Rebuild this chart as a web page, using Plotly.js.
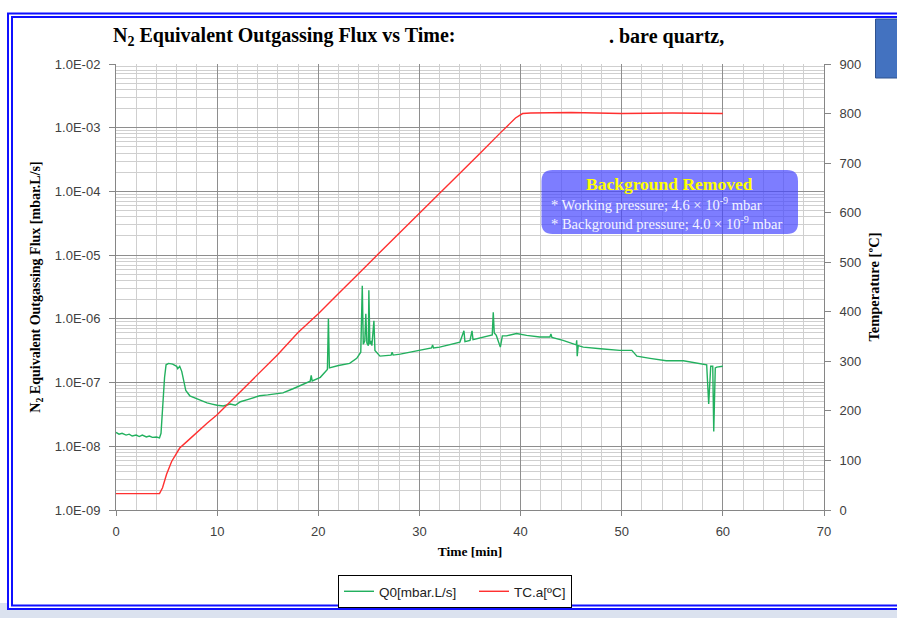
<!DOCTYPE html>
<html>
<head>
<meta charset="utf-8">
<script src="https://cdn.plot.ly/plotly-3.0.1.min.js"></script>
<style>
html,body{margin:0;padding:0;background:#ffffff;overflow:hidden;}
#chart{width:897px;height:618px;}
</style>
</head>
<body>
<div id="chart"></div>
<script>
// ---------- DATA ----------
const seriesNames = ['Q0[mbar.L/s]', 'TC.a[ºC]'];

// Green series: N2 equivalent outgassing flux [mbar.L/s] vs time [min]
const timeQ = [0.0,0.3,0.6,1.0,1.3,1.6,2.0,2.3,2.6,3.0,3.3,3.6,4.0,4.3,4.45,4.6,4.8,4.95,5.2,5.6,6.0,6.1,6.3,6.5,6.9,7.3,8.0,8.5,9.0,9.5,10.0,10.6,11.3,11.8,12.3,13.0,14.2,15.0,16.5,17.5,18.2,19.2,19.3,19.4,20.2,20.9,21.0,21.1,22.0,23.1,23.8,24.2,24.35,24.45,24.6,24.7,24.8,24.95,25.0,25.1,25.2,25.3,25.5,25.6,26.1,27.2,27.3,27.4,28.1,30.1,31.2,31.3,31.4,32.0,34.0,34.4,34.5,35.0,35.2,35.3,36.6,37.2,37.3,37.4,37.6,38.0,38.2,38.6,39.6,40.6,41.9,42.9,43.0,43.1,44.2,45.5,45.55,45.6,45.7,46.2,47.9,49.8,51.0,51.5,52.8,54.4,56.1,57.7,58.4,58.6,58.8,59.0,59.1,59.25,59.4,60.0];
const fluxQ = [1.65e-8,1.55e-8,1.6e-8,1.5e-8,1.55e-8,1.45e-8,1.5e-8,1.42e-8,1.5e-8,1.4e-8,1.45e-8,1.38e-8,1.4e-8,1.35e-8,1.6e-8,4.0e-8,1.2e-7,1.9e-7,2.0e-7,1.95e-7,1.8e-7,1.65e-7,1.8e-7,1.5e-7,7.5e-8,6.2e-8,5.6e-8,5.2e-8,4.8e-8,4.6e-8,4.4e-8,4.3e-8,4.6e-8,4.4e-8,5.0e-8,5.4e-8,6.2e-8,6.4e-8,6.9e-8,8.0e-8,9.0e-8,1.05e-7,1.3e-7,1.06e-7,1.21e-7,1.6e-7,1.0e-6,1.7e-7,1.85e-7,2.0e-7,2.4e-7,3.0e-7,3.3e-6,4.0e-7,4.5e-7,1.2e-6,4.2e-7,3.8e-7,2.8e-6,4.0e-7,4.5e-7,3.8e-7,9.3e-7,3.2e-7,2.6e-7,2.7e-7,3.0e-7,2.7e-7,2.8e-7,3.2e-7,3.5e-7,3.9e-7,3.5e-7,3.6e-7,4.3e-7,6.5e-7,4.4e-7,4.6e-7,6.5e-7,4.7e-7,5.4e-7,5.6e-7,1.27e-6,6.0e-7,5.5e-7,3.6e-7,5.4e-7,5.4e-7,5.9e-7,5.5e-7,5.2e-7,5.2e-7,5.8e-7,5.1e-7,4.6e-7,3.9e-7,4.6e-7,2.6e-7,3.8e-7,3.6e-7,3.4e-7,3.2e-7,3.2e-7,2.6e-7,2.4e-7,2.2e-7,2.2e-7,2.0e-7,1.9e-7,4.6e-8,1.8e-7,1.8e-7,1.7e-8,1.7e-7,1.75e-7,1.8e-7];

// Red series: temperature TC.a [ºC] vs time [min]
const timeT = [0,4.3,4.6,5.0,5.5,6.3,7.0,8.0,9.0,10.0,12.0,14.0,16.0,18.0,20.0,22.0,23.0,24.0,26.0,28.0,30.0,32.0,34.0,36.0,38.0,39.5,40.2,41,45,50,55,60];
const tempT = [33,33,45,72,98,125,138,157,175,192,232,273,314,358,396,437,458,477,518,558,598,639,680,720,761,791,800,801,802,800,801,800];

// Tick labels
const xTickVals = [0,10,20,30,40,50,60,70];
const fluxTickVals = [1e-9,1e-8,1e-7,1e-6,1e-5,1e-4,1e-3,1e-2];
const fluxTickText = ['1.0E-09','1.0E-08','1.0E-07','1.0E-06','1.0E-05','1.0E-04','1.0E-03','1.0E-02'];
const tempTickVals = [0,100,200,300,400,500,600,700,800,900];

// ---------- LAYOUT HELPERS ----------
const W = 897, H = 618;
const M = {l:116, r:73, t:64, b:108};
const PW = W - M.l - M.r, PH = H - M.t - M.b;
const px = v => (v - M.l) / PW;          // pixel x -> paper x
const py = v => (H - M.b - v) / PH;      // pixel y -> paper y

// minor log gridline positions (2..9 per decade)
const minorFlux = [];
for (let d = -9; d < -2; d++) for (let k = 2; k <= 9; k++) minorFlux.push(k * Math.pow(10, d));

function roundRect(x0, y0, x1, y1, r) {
  const X0 = px(x0), X1 = px(x1), Y0 = py(y0), Y1 = py(y1);
  const rx = r / PW, ry = r / PH;
  return `M${X0+rx},${Y0} L${X1-rx},${Y0} Q${X1},${Y0} ${X1},${Y0-ry} ` +
         `L${X1},${Y1+ry} Q${X1},${Y1} ${X1-rx},${Y1} L${X0+rx},${Y1} ` +
         `Q${X0},${Y1} ${X0},${Y1+ry} L${X0},${Y0-ry} Q${X0},${Y0} ${X0+rx},${Y0} Z`;
}

const tickFont = {family:'Liberation Sans, Arial, sans-serif', size:13, color:'#404040'};
const serifBold = 'Liberation Serif, Times New Roman, serif';

const traces = [
  {x: timeQ, y: fluxQ, name: seriesNames[0], type:'scatter', mode:'lines',
   line:{color:'#22b05e', width:1.4}, yaxis:'y', legendwidth:90},
  {x: timeT, y: tempT, name: seriesNames[1], type:'scatter', mode:'lines',
   line:{color:'#ff3030', width:1.4}, yaxis:'y2'}
];

const layout = {
  width: W, height: H,
  margin: {l:M.l, r:M.r, t:M.t, b:M.b, pad:0, autoexpand:false},
  paper_bgcolor:'#ffffff', plot_bgcolor:'#ffffff',
  showlegend: true,
  legend: {orientation:'h', xref:'container', yref:'container',
           x: 455 / W, xanchor:'center', y: 1 - 575 / H, yanchor:'top',
           bgcolor:'#ffffff', bordercolor:'#000000', borderwidth:1,
           font:{family:'Liberation Sans, Arial, sans-serif', size:13.5, color:'#222'},
           itemwidth:30, tracegroupgap:0},
  xaxis: {range:[0,70], tickvals:xTickVals, ticks:'outside', ticklen:5, tickcolor:'#868686',
          showgrid:true, gridcolor:'#8e8e8e', gridwidth:1, automargin:false,
          minor:{dtick:2, tick0:0, showgrid:true, gridcolor:'#cfcfcf', gridwidth:1, ticks:''},
          showline:true, linecolor:'#868686', linewidth:1, zeroline:false,
          tickfont:tickFont, ticklabelstandoff:4,
          title:{text:'Time [min]', font:{family:serifBold, size:13.5, color:'#000', weight:'bold'}, standoff:8}},
  yaxis: {type:'log', range:[-9,-2], tickmode:'array', tickvals:fluxTickVals, ticktext:fluxTickText,
          ticks:'outside', ticklen:6, tickcolor:'#868686', automargin:false,
          showgrid:true, gridcolor:'#8e8e8e', gridwidth:1,
          minor:{tickmode:'array', tickvals:minorFlux, showgrid:true, gridcolor:'#cfcfcf', gridwidth:1, ticks:''},
          showline:true, linecolor:'#868686', linewidth:1, zeroline:false,
          tickfont:tickFont, ticklabelstandoff:6,
          title:{text:'N<sub>2</sub> Equivalent Outgassing Flux [mbar.L/s]',
                 font:{family:serifBold, size:14, color:'#000', weight:'bold'}, standoff:10}},
  yaxis2: {overlaying:'y', side:'right', range:[0,900], tickvals:tempTickVals, automargin:false,
           ticks:'outside', ticklen:6, tickcolor:'#868686', showgrid:false, zeroline:false,
           showline:true, linecolor:'#868686', linewidth:1,
           tickfont:tickFont, ticklabelstandoff:6,
           title:{text:'Temperature [ºC]', font:{family:serifBold, size:14.5, color:'#000', weight:'bold'}, standoff:8}},
  shapes: [
    // page backdrop strip
    {type:'rect', xref:'paper', yref:'paper', x0:px(0), x1:px(W), y0:py(603), y1:py(H+2),
     fillcolor:'#dbe2ef', line:{width:0}, layer:'below'},
    // white card with double blue frame
    {type:'rect', xref:'paper', yref:'paper', x0:px(8), x1:px(W+20), y0:py(609), y1:py(13.5),
     fillcolor:'#ffffff', line:{color:'#1010ff', width:2}, layer:'below'},
    {type:'rect', xref:'paper', yref:'paper', x0:px(12), x1:px(W+16), y0:py(605.5), y1:py(17),
     fillcolor:'rgba(0,0,0,0)', line:{color:'#1010ff', width:2}, layer:'below'},
    // blue button in top-right corner
    {type:'rect', xref:'paper', yref:'paper', x0:px(875.5), x1:px(W+10), y0:py(78), y1:py(19),
     fillcolor:'#4372c0', line:{color:'#2f528f', width:1}, layer:'above'},
    // note box
    {type:'path', xref:'paper', yref:'paper', path: roundRect(541.5, 170, 798, 234, 11),
     fillcolor:'rgba(70,70,255,0.70)', line:{width:0}, layer:'above'}
  ],
  annotations: [
    {xref:'paper', yref:'paper', x:px(111), y:py(37), xanchor:'left', yanchor:'middle', showarrow:false,
     text:'N<sub>2</sub> Equivalent Outgassing Flux vs Time:',
     font:{family:serifBold, size:20, color:'#000', weight:'bold'}},
    {xref:'paper', yref:'paper', x:px(607), y:py(37), xanchor:'left', yanchor:'middle', showarrow:false,
     text:'. bare quartz,',
     font:{family:serifBold, size:20, color:'#000', weight:'bold'}},
    {xref:'paper', yref:'paper', x:px(669), y:py(183.5), xanchor:'center', yanchor:'middle', showarrow:false,
     text:'Background Removed',
     font:{family:serifBold, size:17.5, color:'#ffff00', weight:'bold'}},
    {xref:'paper', yref:'paper', x:px(549), y:py(193), xanchor:'left', yanchor:'top', showarrow:false,
     align:'left',
     text:'* Working pressure; 4.6 × 10<sup>-9</sup> mbar<br>* Background pressure; 4.0 × 10<sup>-9</sup> mbar',
     font:{family:'Liberation Serif, Times New Roman, serif', size:14.5, color:'#f4f4ff'}}
  ]
};

Plotly.newPlot('chart', traces, layout, {displayModeBar:false, staticPlot:true});
</script>
</body>
</html>
